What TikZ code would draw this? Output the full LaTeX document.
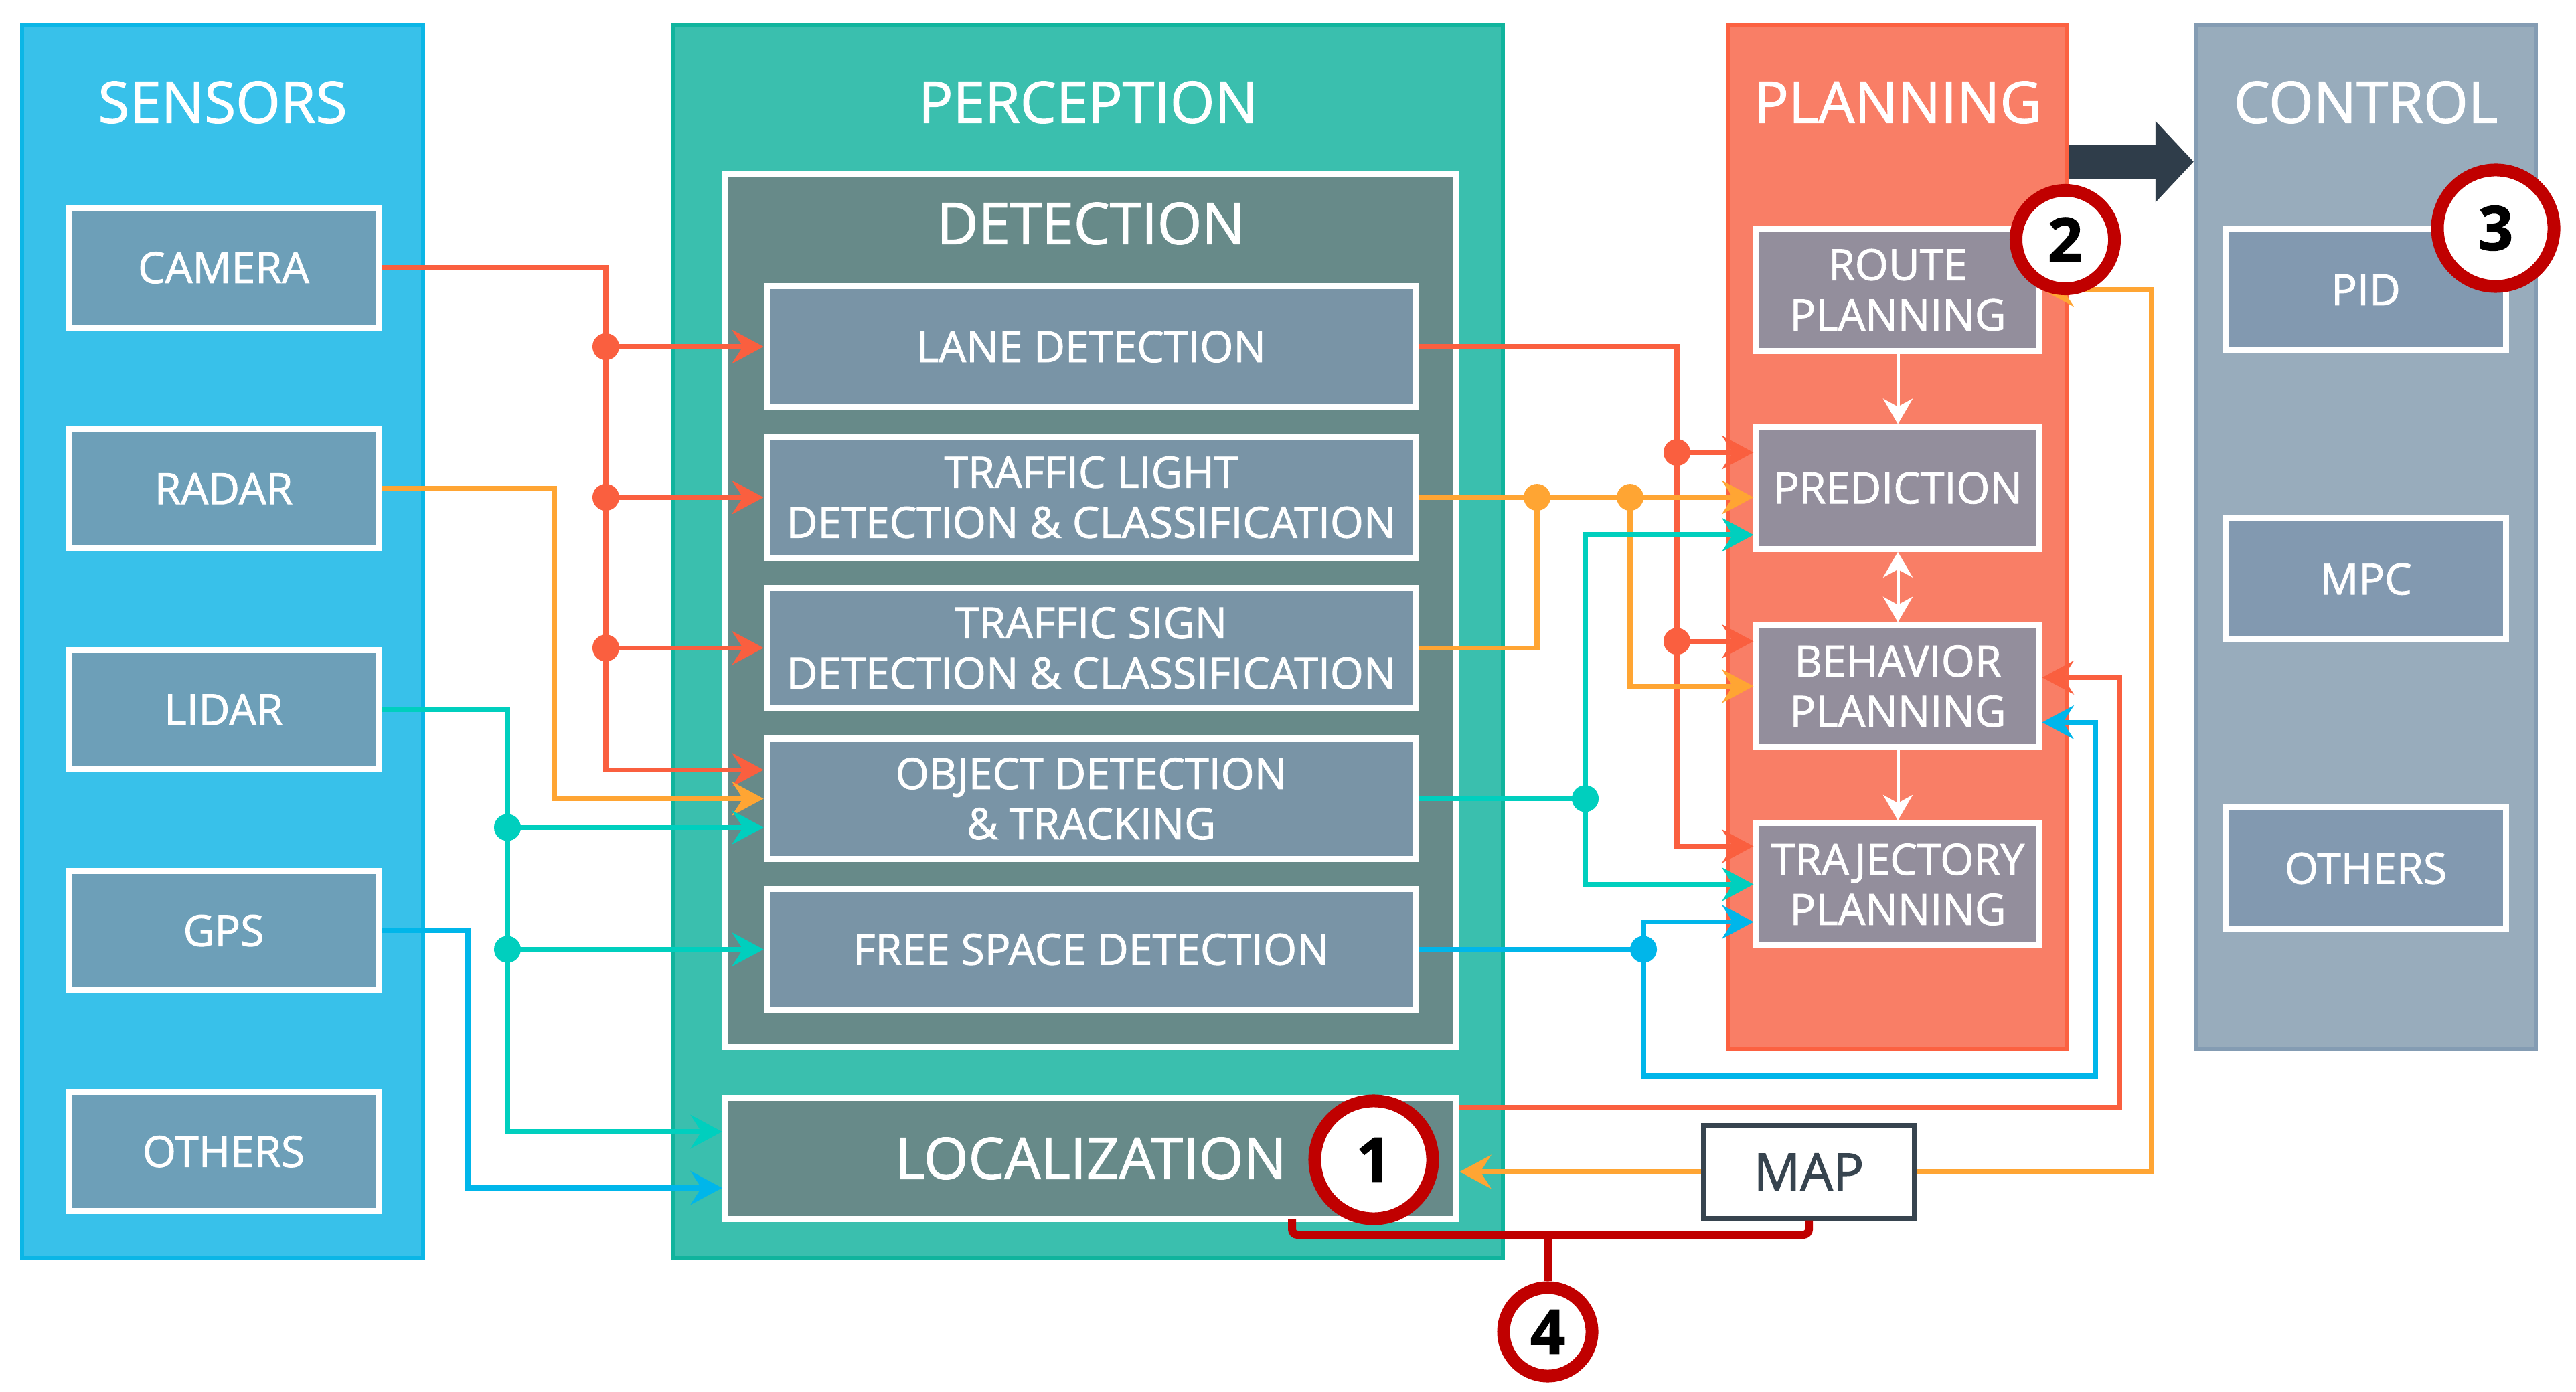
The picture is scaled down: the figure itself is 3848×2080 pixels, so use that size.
\documentclass[tikz,border=0pt]{standalone}
\usepackage{fontspec}
\setmainfont{Open Sans}[FakeBold=1.4]
\usepackage{xcolor}
\usepackage{tikz}
\usetikzlibrary{
    positioning,
    arrows.meta
}

\definecolor{csensfill}{HTML}{38C1EA}
\definecolor{csensline}{HTML}{0BB6E6}
\definecolor{csensbox}{HTML}{6D9FB8}
\definecolor{cpercfill}{HTML}{3ABFAE}
\definecolor{cpercline}{HTML}{10B49D}
\definecolor{cdetfill}{HTML}{678A89}
\definecolor{cdetbox}{HTML}{7994A6}
\definecolor{cplanfill}{HTML}{F97E66}
\definecolor{cplanline}{HTML}{FC6141}
\definecolor{cplanbox}{HTML}{938E9C}
\definecolor{cctrlfill}{HTML}{98ACBC}
\definecolor{cctrlline}{HTML}{849CB3}
\definecolor{cctrlbox}{HTML}{8299B0}
\definecolor{cred}{HTML}{FA5F3F}
\definecolor{corange}{HTML}{FFA533}
\definecolor{cteal}{HTML}{00CFBE}
\definecolor{cblue}{HTML}{00B6EA}
\definecolor{cdark}{HTML}{2F3D4A}
\definecolor{cmapline}{HTML}{37444F}
\definecolor{cmark}{HTML}{C00000}

\newcommand{\boxfont}{\fontsize{18.3}{21.3}\selectfont}
\newcommand{\headfont}{\fontsize{24.3}{29}\selectfont}

\tikzset{sensorpanel/.style={
    draw=csensline,
    fill=csensfill,
    line width=0.6mm,
    minimum width=5.99cm,
    minimum height=18.41cm,
}}
\tikzset{perceptionpanel/.style={
    draw=cpercline,
    fill=cpercfill,
    line width=0.6mm,
    minimum width=12.39cm,
    minimum height=18.41cm,
}}
\tikzset{planningpanel/.style={
    draw=cplanline,
    fill=cplanfill,
    line width=0.6mm,
    minimum width=5.06cm,
    minimum height=15.29cm,
}}
\tikzset{controlpanel/.style={
    draw=cctrlline,
    fill=cctrlfill,
    line width=0.6mm,
    minimum width=5.08cm,
    minimum height=15.29cm,
}}
\tikzset{title/.style={
    text=white,
    font=\headfont,
}}
\tikzset{sensor/.style={
    draw=white,
    fill=csensbox,
    line width=0.9mm,
    minimum width=4.63cm,
    minimum height=1.78cm,
    text=white,
    font=\boxfont,
}}
\tikzset{detection/.style={
    draw=white,
    fill=cdetfill,
    line width=0.9mm,
    minimum width=10.92cm,
    minimum height=13.04cm,
}}
\tikzset{detector/.style={
    draw=white,
    fill=cdetbox,
    line width=0.9mm,
    minimum width=9.69cm,
    minimum height=1.80cm,
    text=white,
    font=\boxfont,
}}
\tikzset{localization/.style={
    draw=white,
    fill=cdetfill,
    line width=0.9mm,
    minimum width=10.92cm,
    minimum height=1.81cm,
    text=white,
    font=\headfont,
}}
\tikzset{planner/.style={
    draw=white,
    fill=cplanbox,
    line width=0.9mm,
    minimum width=4.22cm,
    minimum height=1.82cm,
    text=white,
    font=\boxfont,
}}
\tikzset{controller/.style={
    draw=white,
    fill=cctrlbox,
    line width=0.9mm,
    minimum width=4.19cm,
    minimum height=1.81cm,
    text=white,
    font=\boxfont,
}}
\tikzset{mapbox/.style={
    draw=cmapline,
    fill=white,
    line width=0.7mm,
    minimum width=3.15cm,
    minimum height=1.38cm,
    text=cmapline,
    font=\fontsize{21.9}{26}\selectfont,
}}
\tikzset{marker/.style={
    circle,
    draw=cmark,
    fill=white,
    line width=1.9mm,
    inner sep=0,
    font=\fontsize{26}{30}\selectfont\bfseries,
}}
\tikzset{link/.style={
    draw=#1,
    line width=0.75mm,
    -{Stealth[length=4.7mm, width=5mm, inset=1.6mm]},
}}
\tikzset{wire/.style={
    draw=#1,
    line width=0.75mm,
}}
\tikzset{flow/.style={
    draw=white,
    line width=0.5mm,
    >={Stealth[length=3.8mm, width=4.4mm, inset=1.2mm]},
    ->,
}}
\tikzset{bigarrow/.style={
    draw=cdark,
    line width=5mm,
    -{Triangle[length=5.7mm, width=11.8mm]},
}}
\tikzset{bracket/.style={
    draw=cmark,
    line width=1.2mm,
    rounded corners=0.8mm,
}}

\begin{document}
\begin{tikzpicture}[
                x=0.01cm, y=-0.01cm,
                align=center,
                node distance=0.0cm
        ]
            \useasboundingbox (0,0) rectangle (3848,2080);
            \coordinate (titleline) at (0,153);

            % columns
            \node[sensorpanel] (sensors) at (332.5,958.5) {};
            \node[perceptionpanel] (perception) at (1625.5,958.5) {};
            \node[planningpanel] (planning) at (2835,802.5) {};
            \node[controlpanel] (control) at (3534,802.5) {};

            \node[title] (sensorstitle) at (sensors.north |- titleline) {SENSORS};
            \node[title] (perceptiontitle) at (perception.north |- titleline) {PERCEPTION};
            \node[title] (planningtitle) at (planning.north |- titleline) {PLANNING};
            \node[title] (controltitle) at (control.north |- titleline) {CONTROL};

            \draw[bigarrow] ([yshift=-2.07cm]planning.north east) -- ([yshift=-2.07cm]control.north west);

            % sensors
            \node[sensor] (camera) at (334,400) {CAMERA};
            \node[sensor, below=1.43cm of camera] (radar) {RADAR};
            \node[sensor, below=1.43cm of radar] (lidar) {LIDAR};
            \node[sensor, below=1.43cm of lidar] (gps) {GPS};
            \node[sensor, below=1.43cm of gps] (sothers) {OTHERS};

            % perception
            \node[detection] (detect) at (1629.5,912.5) {};
            \node[title] (detecttitle) at (1629.5,334) {DETECTION};
            \node[detector] (lane) at (1630,518) {LANE DETECTION};
            \node[detector, below=0.36cm of lane] (tlight) {TRAFFIC LIGHT\\DETECTION \& CLASSIFICATION};
            \node[detector, below=0.36cm of tlight] (tsign) {TRAFFIC SIGN\\DETECTION \& CLASSIFICATION};
            \node[detector, below=0.36cm of tsign] (od) {OBJECT DETECTION\\\& TRACKING};
            \node[detector, below=0.36cm of od] (fs) {FREE SPACE DETECTION};
            \node[localization] (loc) at (1629.5,1731) {LOCALIZATION};

            % planning
            \node[planner] (route) at (2835,433) {ROUTE\\PLANNING};
            \node[planner, below=1.05cm of route] (pred) {PREDICTION};
            \node[planner, below=1.05cm of pred] (beh) {BEHAVIOR\\PLANNING};
            \node[planner, below=1.05cm of beh] (traj) {TRAJECTORY\\PLANNING};
            \draw[flow] (route) -- (pred);
            \draw[flow, <->] (pred) -- (beh);
            \draw[flow] (beh) -- (traj);

            % control
            \node[controller] (pid) at (3534,433) {PID};
            \node[controller, below=2.42cm of pid] (mpc) {MPC};
            \node[controller, below=2.42cm of mpc] (cothers) {OTHERS};

            \node[mapbox] (map) at (2702,1751) {MAP};

            % sensor buses
            \coordinate (redbus) at (905,0);
            \coordinate (orbus) at (828,0);
            \coordinate (teabus) at (758,0);
            \coordinate (blubus) at (699,0);

            \draw[link=cred] (camera.east) -| ([yshift=.43cm]od.west -| redbus) -- ([yshift=.43cm]od.west);
            \foreach \n in {lane,tlight,tsign}{
                \draw[link=cred] (redbus |- \n.west) -- (\n.west);
                \fill[cred] (redbus |- \n.west) circle (2mm);
            }
            \draw[link=corange] (radar.east) -| (orbus |- od.west) -- (od.west);
            \draw[link=cteal] (lidar.east) -| ([yshift=.4cm]loc.west -| teabus) -- ([yshift=.4cm]loc.west);
            \draw[link=cteal] ([yshift=-.43cm]od.west -| teabus) -- ([yshift=-.43cm]od.west);
            \draw[link=cteal] (teabus |- fs.west) -- (fs.west);
            \fill[cteal] ([yshift=-.43cm]od.west -| teabus) circle (2mm);
            \fill[cteal] (teabus |- fs.west) circle (2mm);
            \draw[link=cblue] (gps.east) -| ([yshift=-.44cm]loc.west -| blubus) -- ([yshift=-.44cm]loc.west);

            % perception to planning
            \coordinate (lanebus) at (2505,0);
            \coordinate (ortapa) at (2296,0);
            \coordinate (ortapb) at (2435,0);
            \coordinate (teatap) at (2368,0);
            \coordinate (blutap) at (2455,0);
            \coordinate (bluloop) at (3130,1608);
            \coordinate (redloop) at (3166,0);
            \coordinate (maploop) at (3214,0);

            \draw[link=cred] (lane.east) -| ([yshift=.57cm]traj.west -| lanebus) -- ([yshift=.57cm]traj.west);
            \draw[link=cred] ([yshift=.53cm]pred.west -| lanebus) -- ([yshift=.53cm]pred.west);
            \draw[link=cred] ([yshift=.67cm]beh.west -| lanebus) -- ([yshift=.67cm]beh.west);
            \fill[cred] ([yshift=.53cm]pred.west -| lanebus) circle (2mm);
            \fill[cred] ([yshift=.67cm]beh.west -| lanebus) circle (2mm);

            \draw[link=corange] (tlight.east) -- (tlight.east -| pred.west);
            \draw[wire=corange] (tsign.east) -| (ortapa |- tlight.east);
            \draw[link=corange] (ortapb |- tlight.east) |- (beh.west);
            \fill[corange] (ortapa |- tlight.east) circle (2mm);
            \fill[corange] (ortapb |- tlight.east) circle (2mm);

            \draw[wire=cteal] (od.east) -- (teatap |- od.east);
            \draw[link=cteal] (teatap |- od.east) |- ([yshift=-.7cm]pred.west);
            \draw[link=cteal] (teatap |- od.east) |- (traj.west);
            \fill[cteal] (teatap |- od.east) circle (2mm);

            \draw[wire=cblue] (fs.east) -- (blutap |- fs.east);
            \draw[link=cblue] (blutap |- fs.east) |- ([yshift=-.56cm]traj.west);
            \draw[link=cblue] (blutap |- fs.east) |- (bluloop) |- ([yshift=-.54cm]beh.east);
            \fill[cblue] (blutap |- fs.east) circle (2mm);

            \draw[link=cred] ([yshift=.76cm]loc.east) -| ([yshift=.13cm]beh.east -| redloop) -- ([yshift=.13cm]beh.east);
            \draw[link=corange] (map.west) -- (map.west -| loc.east);
            \draw[link=corange] (map.east) -| (maploop |- route.east) -- (route.east);

            % markers
            \node[marker, minimum size=1.76cm] (one) at (2052,1733) {1};
            \node[marker, minimum size=1.47cm] (two) at (3085,358) {2};
            \node[marker, minimum size=1.74cm] (three) at (3728,341) {3};
            \node[marker, minimum size=1.32cm] (four) at (2312,1990) {4};

            \coordinate (bracketl) at (1930,1821);
            \coordinate (bracketm) at (2312,1845);
            \draw[bracket] (bracketl) |- (bracketm) -| (map.south);
            \draw[bracket] (bracketm) -- (four);

        \end{tikzpicture}
\end{document}
